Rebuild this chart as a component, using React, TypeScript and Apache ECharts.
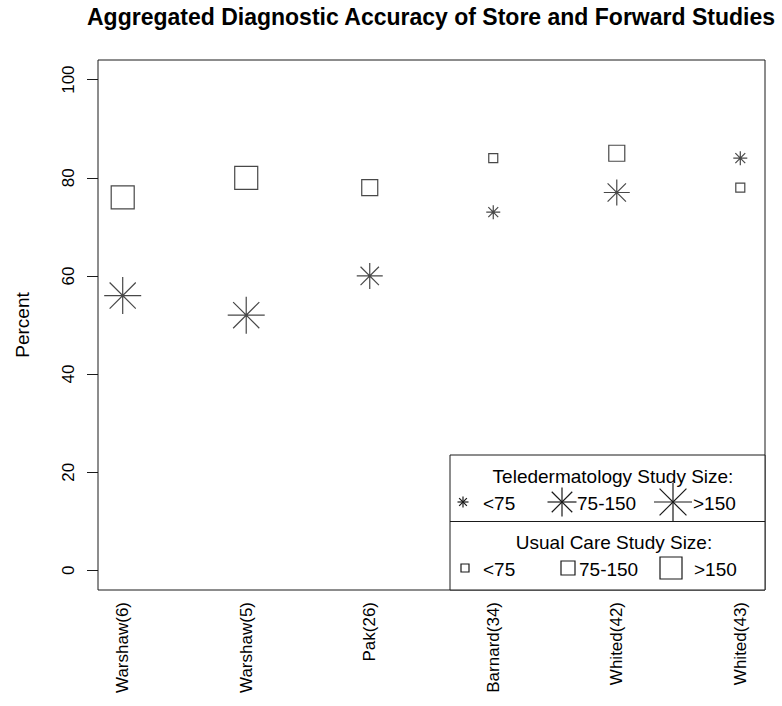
import React, { useEffect, useRef } from "react";
import * as echarts from "echarts";

// ---- data ----
const studies = ["Warshaw(6)", "Warshaw(5)", "Pak(26)", "Barnard(34)", "Whited(42)", "Whited(43)"];
const studyPositions = [1, 2, 3, 4, 5, 6];
const teleValues = [56, 52, 60, 73, 77, 84];
const teleSizeClass = [">150", ">150", "75-150", "<75", "75-150", "<75"];
const careValues = [76, 80, 78, 84, 85, 78];
const careSizeClass = [">150", ">150", "75-150", "<75", "75-150", "<75"];
const sizeClasses = ["<75", "75-150", ">150"];
const yTicks = [0, 20, 40, 60, 80, 100];

const titleText = "Aggregated Diagnostic Accuracy of Store and Forward Studies";
const yName = "Percent";
const teleLegendTitle = "Teledermatology Study Size:";
const careLegendTitle = "Usual Care Study Size:";

// ---- styling ----
const FONT = "'Liberation Sans', Arial, Helvetica, sans-serif";
const INK = "#1a1a1a";
const asteriskSize: Record<string, number> = { "<75": 14, "75-150": 26, ">150": 37 };
const squareSize: Record<string, number> = { "<75": 9, "75-150": 16, ">150": 23 };
const legendAsteriskSize: Record<string, number> = { "<75": 11, "75-150": 29, ">150": 38 };
const legendSquareSize: Record<string, number> = { "<75": 8, "75-150": 14, ">150": 22 };
const ASTERISK_PATH =
  "path://M10,0L10,20M0,10L20,10M2.93,2.93L17.07,17.07M2.93,17.07L17.07,2.93";

function asteriskGroup(cx: number, cy: number, size: number) {
  const r = size / 2;
  const d = r * Math.SQRT1_2;
  const st = { stroke: INK, lineWidth: 1.2 };
  return {
    type: "group",
    children: [
      { type: "line", shape: { x1: cx, y1: cy - r, x2: cx, y2: cy + r }, style: st },
      { type: "line", shape: { x1: cx - r, y1: cy, x2: cx + r, y2: cy }, style: st },
      { type: "line", shape: { x1: cx - d, y1: cy - d, x2: cx + d, y2: cy + d }, style: st },
      { type: "line", shape: { x1: cx - d, y1: cy + d, x2: cx + d, y2: cy - d }, style: st },
    ],
  };
}

function squareEl(cx: number, cy: number, size: number) {
  return {
    type: "rect",
    shape: { x: cx - size / 2, y: cy - size / 2, width: size, height: size },
    style: { fill: "none", stroke: INK, lineWidth: 1.2 },
  };
}

function textEl(x: number, y: number, text: string, size: number, align: string, bold = false) {
  return {
    type: "text",
    x,
    y,
    style: {
      text,
      fontSize: size,
      fontFamily: FONT,
      fontWeight: bold ? "bold" : "normal",
      fill: "#000",
      align,
      verticalAlign: "middle",
      textAlign: align,
      textVerticalAlign: "middle",
    },
  };
}

export default function App() {
  const ref = useRef<HTMLDivElement>(null);

  useEffect(() => {
    if (!ref.current) return;
    const chart = echarts.init(ref.current, undefined, { renderer: "svg" });

    const teleData = studyPositions.map((x, i) => ({
      value: [x, teleValues[i]],
      symbolSize: asteriskSize[teleSizeClass[i]],
    }));
    const careData = studyPositions.map((x, i) => ({
      value: [x, careValues[i]],
      symbolSize: squareSize[careSizeClass[i]],
    }));

    // legend layout
    const legX = [463, 562, 673];
    const legTextX = [483, 577, 693];
    const legSqX = [465, 568, 671];
    const legSqTextX = [483, 579, 694];

    const legendEls: any[] = [
      {
        type: "rect",
        shape: { x: 450, y: 455, width: 315, height: 135 },
        style: { fill: "#fff", stroke: INK, lineWidth: 1 },
      },
      {
        type: "line",
        shape: { x1: 450, y1: 521.5, x2: 765, y2: 521.5 },
        style: { stroke: INK, lineWidth: 1 },
      },
      textEl(613, 476, teleLegendTitle, 19, "center"),
      textEl(614, 542, careLegendTitle, 19, "center"),
    ];
    sizeClasses.forEach((c, i) => {
      legendEls.push(asteriskGroup(legX[i], 502, legendAsteriskSize[c]));
      legendEls.push(textEl(legTextX[i], 503, c, 19, "left"));
      legendEls.push(squareEl(legSqX[i], 568, legendSquareSize[c]));
      legendEls.push(textEl(legSqTextX[i], 569, c, 19, "left"));
    });

    chart.setOption({
      animation: false,
      backgroundColor: "#fff",
      grid: {
        left: 98,
        right: 17,
        top: 60,
        bottom: 116,
        show: true,
        borderColor: INK,
        borderWidth: 1,
        backgroundColor: "transparent",
      },
      xAxis: {
        type: "value",
        min: 0.8,
        max: 6.2,
        splitLine: { show: false },
        axisLine: { show: false },
        axisTick: { show: false },
        axisLabel: {
          customValues: studyPositions,
          rotate: 90,
          margin: 12,
          fontSize: 17,
          fontFamily: FONT,
          color: "#000",
          formatter: (v: number) => studies[Math.round(v) - 1] ?? "",
        },
      },
      yAxis: {
        type: "value",
        min: -4,
        max: 104,
        splitLine: { show: false },
        axisLine: { show: false },
        axisTick: {
          show: true,
          length: 11,
          customValues: yTicks,
          lineStyle: { color: INK, width: 1 },
        },
        axisLabel: {
          customValues: yTicks,
          rotate: 90,
          margin: 21,
          fontSize: 17,
          fontFamily: FONT,
          color: "#000",
        },
        name: yName,
        nameLocation: "middle",
        nameRotate: 90,
        nameGap: 66,
        nameTextStyle: { fontSize: 19, fontFamily: FONT, color: "#000" },
      },
      series: [
        {
          name: "Teledermatology",
          type: "scatter",
          symbol: ASTERISK_PATH,
          data: teleData,
          itemStyle: { color: "rgba(0,0,0,0)", borderColor: INK, borderWidth: 1.2 },
          emphasis: { disabled: true },
          z: 3,
        },
        {
          name: "Usual Care",
          type: "scatter",
          symbol: "rect",
          data: careData,
          itemStyle: { color: "rgba(0,0,0,0)", borderColor: INK, borderWidth: 1.2 },
          emphasis: { disabled: true },
          z: 3,
        },
      ],
      graphic: [
        {
          type: "text",
          x: 431,
          y: 17,
          style: {
            text: titleText,
            fontSize: 23,
            fontWeight: "bold",
            fontFamily: FONT,
            fill: "#000",
            align: "center",
            verticalAlign: "middle",
            textAlign: "center",
            textVerticalAlign: "middle",
          },
        },
        ...legendEls,
      ],
    });

    return () => chart.dispose();
  }, []);

  return (
    <div
      ref={ref}
      style={{ position: "fixed", left: 0, top: 0, width: 782, height: 706, background: "#fff" }}
    />
  );
}
